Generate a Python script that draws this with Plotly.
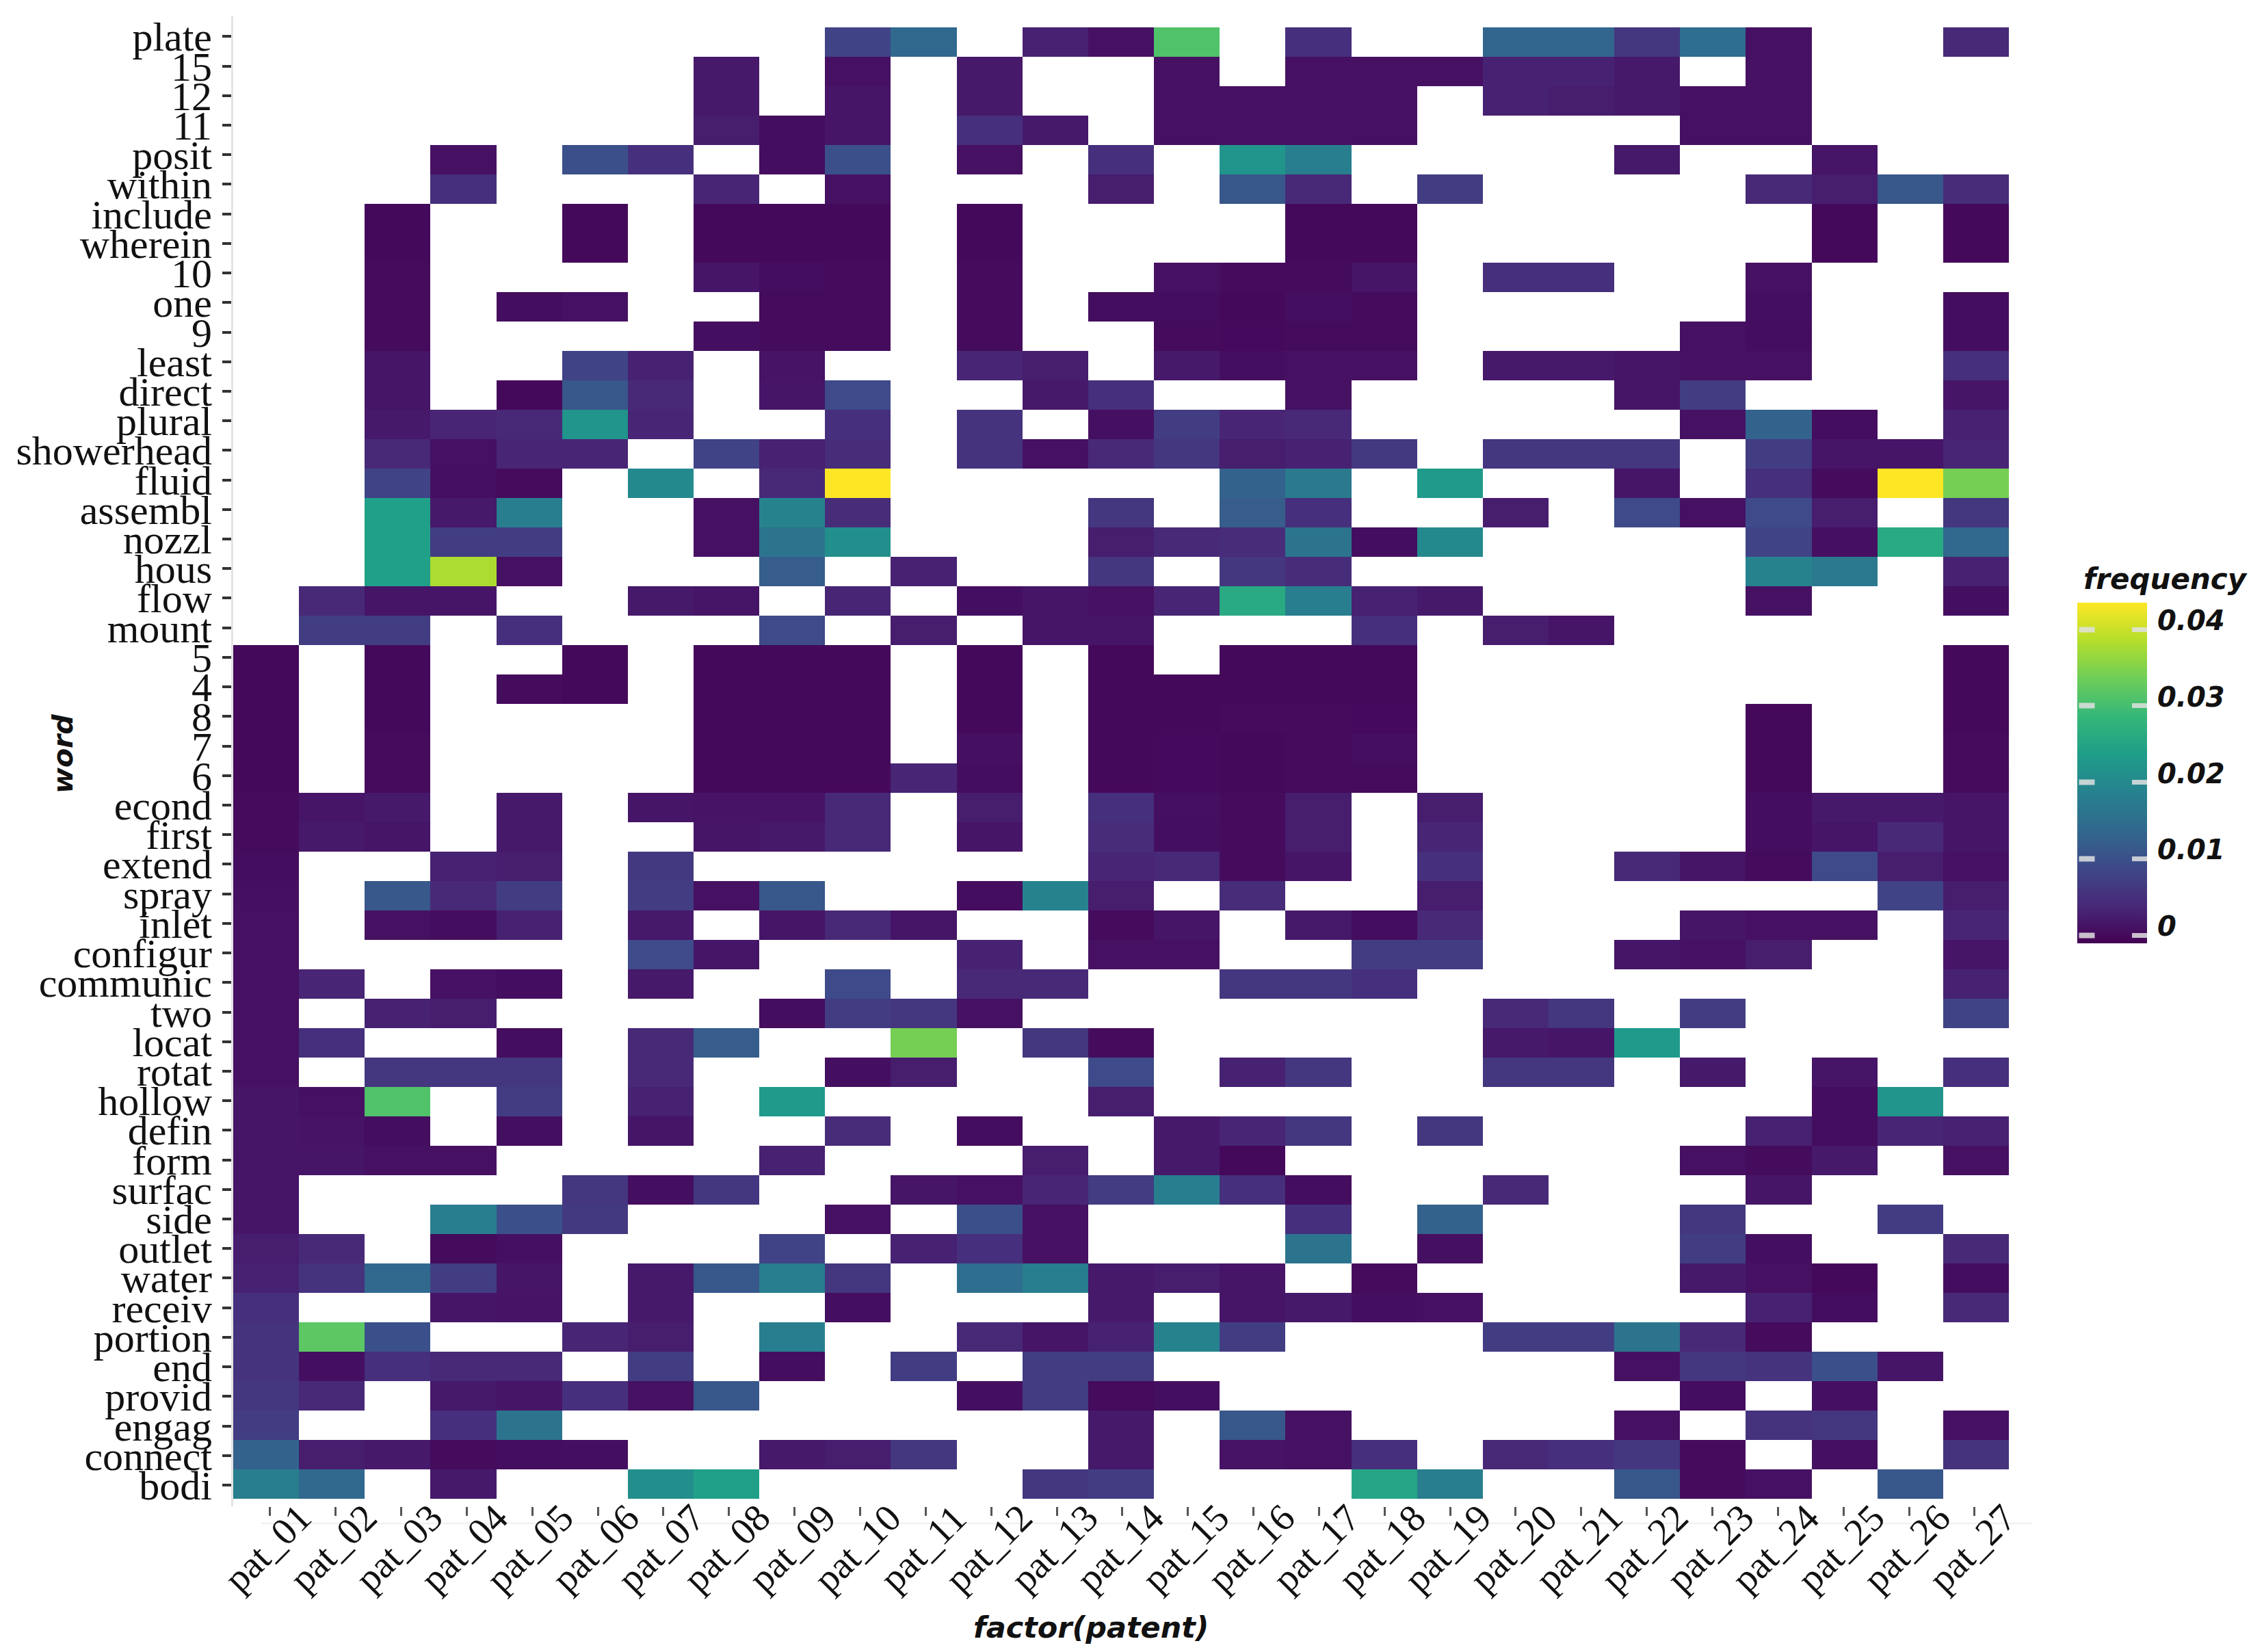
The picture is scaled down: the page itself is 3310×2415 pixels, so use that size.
import numpy as np
import plotly.graph_objects as go

_ = None

PATENTS = ['pat_%02d' % i for i in range(1, 28)]

# word labels, bottom row first
WORDS = ['bodi', 'connect', 'engag', 'provid', 'end', 'portion', 'receiv', 'water', 'outlet', 'side',
         'surfac', 'form', 'defin', 'hollow', 'rotat', 'locat', 'two', 'communic', 'configur', 'inlet',
         'spray', 'extend', 'first', 'econd', '6', '7', '8', '4', '5', 'mount',
         'flow', 'hous', 'nozzl', 'assembl', 'fluid', 'showerhead', 'plural', 'direct', 'least', '9',
         'one', '10', 'wherein', 'include', 'within', 'posit', '11', '12', '15', 'plate']

# frequency per word and patent, in thousandths
f_plate = [_,_,_,_,_,_,_,_,_,8,14,_,3,1,31,_,5,_,_,13.5,13.5,6,15,1,_,_,4]
f_15 = [_,_,_,_,_,_,_,2,_,1,_,2,_,_,1,_,1,1,1,3,3,2,_,1,_,_,_]
f_12 = [_,_,_,_,_,_,_,2,_,1.5,_,2,_,_,1,1,1,1,_,3,2.5,2,1,1,_,_,_]
f_11 = [_,_,_,_,_,_,_,2.5,0.5,1.5,_,5,2,_,1,1,1,1,_,_,_,_,1,1,_,_,_]
f_posit = [_,_,_,1,_,10,5,_,0.5,10,_,1,_,5,_,22,18,_,_,_,_,2,_,_,1.5,_,_]
f_within = [_,_,_,5,_,_,_,3.5,_,1,_,_,_,2.5,_,11,4,_,7,_,_,_,_,4,2.5,11,4.5]
f_include = [_,_,0,_,_,0,_,0,0,0,_,0,_,_,_,_,0,0,_,_,_,_,_,_,0,_,0]
f_wherein = [_,_,0,_,_,0,_,0,0,0,_,0,_,_,_,_,0,0,_,_,_,_,_,_,0,_,0]
f_10 = [_,_,0.2,_,_,_,_,1.5,0.5,0.2,_,0.2,_,_,1,0.3,0.2,1.5,_,5,5,_,_,1,_,_,_]
f_one = [_,_,0.2,_,0.5,1,_,_,0.3,0.2,_,0.2,_,0.5,0.5,0,0.7,0.2,_,_,_,_,_,0.7,_,_,0.5]
f_9 = [_,_,0.2,_,_,_,_,0.7,0.2,0.2,_,0.2,_,_,0.3,0.1,0.2,0.2,_,_,_,_,1,0.5,_,_,0.5]
f_least = [_,_,1.5,_,_,8,3,_,1.2,_,_,3.5,2.5,_,2,0.7,1,1,_,2,2,1.5,1,1,_,_,5]
f_direct = [_,_,1.5,_,0,11,4,_,1.5,9,_,_,2,5,_,_,1,_,_,_,_,1.5,7,_,_,_,1.5]
f_plural = [_,_,2,3.5,4,22,3.5,_,_,5,_,5.5,_,0.8,7,3.5,4,_,_,_,_,_,1,13,0.5,_,3]
f_showerhead = [_,_,4,1,3.5,3.5,_,8,3,4.5,_,5.5,1,4,6,2.5,3,6.5,_,6,6,6,_,7,1.5,1.5,3.5]
f_fluid = [_,_,8,0.8,0.2,_,20,_,4,43.5,_,_,_,_,_,13,17,_,23,_,_,1.5,_,5,0.2,43.5,34]
f_assembl = [_,_,24,2,18,_,_,1,19,4.5,_,_,_,6,_,12,5,_,_,2.5,_,9,1,9,2.5,_,6]
f_nozzl = [_,_,24,7,7,_,_,1,16,21,_,_,_,2.5,4,4.5,16,0.5,20,_,_,_,_,8,0.8,26,14]
f_hous = [_,_,24,38,1,_,_,_,12,_,3,_,_,6,_,6,4.5,_,_,_,_,_,_,19,17,_,3]
f_flow = [_,4,1.5,1.5,_,_,2,1.5,_,3.5,_,0.7,1.5,1,3.5,26,18,3,2,_,_,_,_,1,_,_,0.7]
f_mount = [_,7,7,_,5,_,_,_,9,_,2.5,_,1.5,1.5,_,_,_,5,_,2.5,1.5,_,_,_,_,_,_]
f_5 = [0,_,0,_,_,0,_,0,0,0,_,0,_,0,_,0,0,0,_,_,_,_,_,_,_,_,0]
f_4 = [0,_,0,_,0.2,0,_,0,0,0,_,0,_,0,0,0,0,0,_,_,_,_,_,_,_,_,0]
f_8 = [0,_,0,_,_,_,_,0,0,0,_,0,_,0,0,0.2,0.2,0.1,_,_,_,_,_,0,_,_,0]
f_7 = [0,_,0.2,_,_,_,_,0,0,0,_,0.8,_,0,0.1,0,0.2,0.6,_,_,_,_,_,0,_,_,0.3]
f_6 = [0,_,0.2,_,_,_,_,0,0,0,3.5,0.4,_,0,0.1,0,0.2,0.2,_,_,_,_,_,0,_,_,0.2]
f_econd = [0.2,1.5,2,_,2,_,1.5,1.2,1.2,4,_,2.5,_,5,0.8,0.2,2.5,_,2.5,_,_,_,_,0.5,2,2,1.5]
f_first = [0.2,2,1.5,_,2,_,_,1.5,2,4,_,1.5,_,4.5,0.7,0.2,2.5,_,3.5,_,_,_,_,0.5,1.5,4,1.5]
f_extend = [0.5,_,_,3,2.5,_,6.5,_,_,_,_,_,_,3.5,4,0.3,1.5,_,5,_,_,4,1.5,0.3,9,2.5,1]
f_spray = [0.8,_,11,4,7,_,7,1,11,_,_,0.5,19,2.5,_,4.5,_,_,2.5,_,_,_,_,_,_,8,2.5]
f_inlet = [1,_,1,0.5,3,_,2,_,1.5,4,1.5,_,_,0.2,1.5,_,2,0.5,4,_,_,_,1.5,1,1,_,3.5]
f_configur = [1,_,_,_,_,_,9,1.5,_,_,_,3,_,1,1,_,_,7,7,_,_,1.5,1,2.5,_,_,1.5]
f_communic = [1,3.5,_,1,0.5,_,2,_,_,9,_,4,4,_,_,6,6,5,_,_,_,_,_,_,_,_,3]
f_two = [1,_,3,2.5,_,_,_,_,0.5,7,6,1,_,_,_,_,_,_,_,4,6,_,7,_,_,_,8]
f_locat = [1,5,_,_,0.5,_,4,12,_,_,34,_,6,0.3,_,_,_,_,_,2,1.5,23,_,_,_,_,_]
f_rotat = [1,_,6,6,6,_,4,_,_,0.7,2.5,_,_,9,_,3,6,_,_,6,6,_,2,_,1.5,_,5]
f_hollow = [1.5,1,31,_,7,_,3,_,23,_,_,_,_,2.5,_,_,_,_,_,_,_,_,_,_,0.5,22,_]
f_defin = [1.5,1.2,0.5,_,0.7,_,1.5,_,_,4.5,_,0.5,_,_,2,3.5,6,_,6,_,_,_,_,3,0.5,3.5,3]
f_form = [1.5,1.5,1,1,_,_,_,_,3,_,_,_,2.5,_,2,0,_,_,_,_,_,_,1,0.2,2,_,1]
f_surfac = [1.5,_,_,_,_,6,0.7,6,_,_,1.5,1,3.5,7,18,5,0.5,_,_,4,_,_,_,1.5,_,_,_]
f_side = [1.5,_,_,18,10,6.5,_,_,_,1,_,10,1,_,_,_,5,_,13,_,_,_,6,_,_,7,_]
f_outlet = [2.5,4,_,0.2,0.8,_,_,_,8,_,3,5,1,_,_,_,16,_,0.8,_,_,_,7,0.7,_,_,4]
f_water = [3,5.5,14,7,1.5,_,2,11,18,6,_,15,18,2,2.5,1.5,_,0.2,_,_,_,_,2,1,0,_,0.5]
f_receiv = [5,_,_,1.5,1.2,_,2,_,_,0.7,_,_,_,2,_,1.5,2,0.7,1,_,_,_,_,3,0.5,_,4]
f_portion = [5.5,32,10,_,_,3.5,2.5,_,18,_,_,4,1.5,3,19,7,_,_,_,7,7,16,4,0.2,_,_,_]
f_end = [5.5,0.7,5,4,4,_,7,_,0.5,_,7,_,7,7,_,_,_,_,_,_,_,1,6,5.5,10,1.5,_]
f_provid = [6,4,_,2,1.5,5,1,11,_,_,_,0.7,7,0.2,0.7,_,_,_,_,_,_,_,0.5,_,0.8,_,_]
f_engag = [7,_,_,5,16,_,_,_,_,_,_,_,_,2,_,11,1,_,_,_,_,1,_,5.5,6,_,1]
f_connect = [13,2.5,2,0.3,0.5,0.7,_,_,2,2.5,6,_,_,2,_,1.2,1,5,_,4,5,6,0.3,_,0.8,_,5.5]
f_bodi = [18,14,_,2,_,_,21,24,_,_,_,_,6,7,_,_,_,25,18,_,_,11,0.3,1,_,11,_]

ROWS = [f_bodi, f_connect, f_engag, f_provid, f_end, f_portion, f_receiv, f_water, f_outlet, f_side,
        f_surfac, f_form, f_defin, f_hollow, f_rotat, f_locat, f_two, f_communic, f_configur, f_inlet,
        f_spray, f_extend, f_first, f_econd, f_6, f_7, f_8, f_4, f_5, f_mount,
        f_flow, f_hous, f_nozzl, f_assembl, f_fluid, f_showerhead, f_plural, f_direct, f_least, f_9,
        f_one, f_10, f_wherein, f_include, f_within, f_posit, f_11, f_12, f_15, f_plate]

COLORBAR_TICKS = [0, 0.01, 0.02, 0.03, 0.04]
COLORBAR_LABELS = ['0', '0.01', '0.02', '0.03', '0.04']

ZMIN = -0.00107
ZMAX = 0.0435

z = np.array(ROWS, dtype=float) * 0.001

# the labels and ticks in the source do not sit exactly on the cell centres
xticks = [0.06 + i * 0.9969 for i in range(len(PATENTS))]
yticks = [-0.035 + i * 1.00459 for i in range(len(WORDS))]

# the page body has an 8px margin, all pixel numbers below are page pixels
W, H = 3310, 2415
BODY = 8
LEFT, RIGHT, TOP, BOTTOM = 341, 2937, 24, 2202
FIG_W, FIG_H = W - 2 * BODY, H - 2 * BODY


def px_x(px):
    return (px - LEFT) / (RIGHT - LEFT)


def px_y(px):
    return (BOTTOM - px) / (BOTTOM - TOP)


BAR_TOP, BAR_BOTTOM = 881, 1379
TICK_COLOR = 'rgba(225,225,225,0.85)'
LEGEND_FONT = dict(family='DejaVu Sans', color='#111111', weight='bold', style='italic')

heat = go.Heatmap(
    x=list(range(len(PATENTS))),
    y=list(range(len(WORDS))),
    z=z,
    zmin=ZMIN,
    zmax=ZMAX,
    colorscale='Viridis',
    hoverongaps=False,
    colorbar=dict(
        x=px_x(3037), xanchor='left', xpad=0,
        y=px_y(BAR_BOTTOM), yanchor='bottom', ypad=0,
        len=BAR_BOTTOM - BAR_TOP, lenmode='pixels',
        thickness=102, thicknessmode='pixels',
        outlinewidth=0,
        tickvals=COLORBAR_TICKS, showticklabels=False,
        ticks='inside', ticklen=22, tickwidth=7, tickcolor=TICK_COLOR,
    ),
)

fig = go.Figure(heat)

# rotated patent labels, centred under their ticks
for name, pos in zip(PATENTS, xticks):
    fig.add_annotation(x=pos, y=0, xref='x', yref='paper', text=name, showarrow=False,
                       textangle=-45, xanchor='center', yanchor='middle', xshift=-4, yshift=-61,
                       font=dict(family='Liberation Serif', size=56, color='#111111'))

fig.add_annotation(x=px_x(1595), y=px_y(2379), xref='paper', yref='paper', text='factor(patent)',
                   showarrow=False, xanchor='center', yanchor='middle',
                   font=dict(family='DejaVu Sans', size=43, color='#111111', weight='bold', style='italic'))
fig.add_annotation(x=px_x(92), y=px_y(1102), xref='paper', yref='paper', text='word',
                   showarrow=False, textangle=-90, xanchor='center', yanchor='middle',
                   font=dict(family='DejaVu Sans', size=41, color='#111111', weight='bold', style='italic'))

# faint axis line under the tick labels
fig.add_shape(type='line', xref='paper', yref='paper', layer='below',
              x0=px_x(382), x1=px_x(2970), y0=px_y(2227), y1=px_y(2227),
              line=dict(color='#efefef', width=2))

# colourbar title and labels: the source has them offset from the ticks,
# which plotly's own colourbar text can not do
fig.add_annotation(x=px_x(3044), y=px_y(847), xref='paper', yref='paper', text='frequency', showarrow=False,
                   xanchor='left', yanchor='middle', font=dict(size=42, **LEGEND_FONT))

# ggplot draws colourbar ticks on both sides of the bar, plotly only on one.
# shapes would sit under the bar, so these are small filled annotations
for val, label in zip(COLORBAR_TICKS, COLORBAR_LABELS):
    frac = (val - ZMIN) / (ZMAX - ZMIN)
    ypx = BAR_BOTTOM - frac * (BAR_BOTTOM - BAR_TOP)
    fig.add_annotation(x=px_x(3039), y=px_y(ypx), xref='paper', yref='paper', text=' ', showarrow=False,
                       xanchor='left', yanchor='middle', width=22, height=7, borderpad=0,
                       bgcolor=TICK_COLOR, font=dict(size=1))
    fig.add_annotation(x=px_x(3152), y=px_y(ypx - 13), xref='paper', yref='paper', text=label, showarrow=False,
                       xanchor='left', yanchor='middle', font=dict(size=40, **LEGEND_FONT))

fig.update_layout(
    width=FIG_W, height=FIG_H,
    margin=dict(l=LEFT - BODY, r=FIG_W - (RIGHT - BODY), t=TOP - BODY, b=FIG_H - (BOTTOM - BODY), autoexpand=False),
    paper_bgcolor='white',
    plot_bgcolor='white',
    xaxis=dict(range=[-0.5, 26.5], tickmode='array', tickvals=xticks, showticklabels=False,
               ticks='outside', ticklen=13, tickwidth=3, tickcolor='#555555',
               showgrid=False, zeroline=False, showline=False),
    yaxis=dict(range=[-0.756, 49.872], tickmode='array', tickvals=yticks, ticktext=WORDS,
               ticks='outside', ticklen=13, tickwidth=4, tickcolor='#333333', ticklabelstandoff=3,
               tickfont=dict(family='Liberation Serif', size=60, color='#111111'),
               showgrid=False, zeroline=False, showline=True, linecolor='#e4e4e4', linewidth=3),
)

fig.write_html("out.html")
